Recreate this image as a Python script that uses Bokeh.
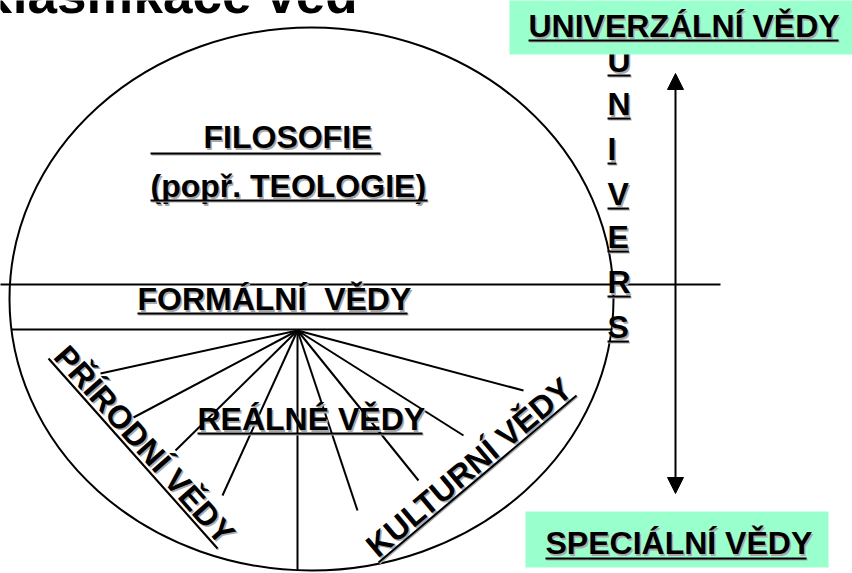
import math
from bokeh.plotting import figure
from bokeh.models import Range1d, Arrow, NormalHead
from bokeh.embed import file_html
from bokeh.resources import INLINE
from bokeh.core.properties import value

# ---------------- content ----------------
title = "Klasifikace věd"
universal_label = "UNIVERZÁLNÍ VĚDY"
special_label = "SPECIÁLNÍ VĚDY"
vertical_word = list("UNIVERS")
region_labels = ["FILOSOFIE", "(popř. TEOLOGIE)", "FORMÁLNÍ\u00a0 VĚDY", "REÁLNÉ VĚDY"]
branch_labels = ["PŘÍRODNÍ VĚDY", "KULTURNÍ VĚDY"]

# ---------------- layout (pixel space of the slide) ----------------
ellipse_cx, ellipse_cy, ellipse_w, ellipse_h = 311, 298.5, 604, 543
divider_y = [284, 329]
divider_x0 = [-5, 11]
divider_x1 = [720, 611]
fan_x0, fan_y0 = 297, 330
fan_end_x = [100, 133, 175, 222, 297, 357, 418, 463, 523]
fan_end_y = [373, 417, 450, 495, 570, 510, 480, 435, 390]

label_x = [203, 150, 137, 197]
label_y = [148, 197, 310, 430]
label_ul_x0 = [150, 150, 137, 197]
label_ul_x1 = [380, 427, 407, 422]
label_ul_y = [153, 200, 313, 433]

box_left = [509, 525]
box_right = [870, 828]
box_top = [-20, 511]
box_bottom = [54, 567]
box_text_x = [528, 545]
box_text_y = [37, 554]
box_ul_x0 = [528, 545]
box_ul_x1 = [838, 806]
box_ul_y = [40, 558]

vert_x = 607
vert_baselines = [72, 115, 160, 205, 248, 293, 338]
# Arial/Liberation Sans Bold advance widths (em)
adv = {"U": 0.722, "N": 0.722, "I": 0.278, "V": 0.667, "E": 0.667, "R": 0.722, "S": 0.667}

branch_ul_start = [(48, 358), (378, 562)]
branch_ul_end = [(217, 548), (576, 395)]

arrow_x, arrow_top, arrow_bottom = 675, 73, 493

FONT = value("Liberation Sans")
FS = 32
GREEN = "#99ffcc"
SHADOW = "#a8a8a8"
BASE_FIX = 11 / 31  # renderer places alphabetic baseline lower than requested (per px of font size)

p = figure(width=852, height=573, x_range=Range1d(0, 852), y_range=Range1d(573, 0),
           output_backend="svg", toolbar_location=None, min_border=0,
           x_axis_location=None, y_axis_location=None)
p.grid.visible = False
p.outline_line_color = None
p.background_fill_color = "white"
p.border_fill_color = "white"


def txt(xs, ys, texts, size=FS, angle=0.0, align="left", shadow=True):
    fix = BASE_FIX * size
    ox, oy = -math.sin(angle) * fix, -math.cos(angle) * fix
    xs = [x + ox for x in xs]
    ys = [y + oy for y in ys]
    if shadow:
        p.text(x=[x + 1.5 for x in xs], y=[y + 1.5 for y in ys], text=texts, angle=angle,
               text_font=FONT, text_font_style="bold", text_font_size=value(f"{size}px"),
               text_color=SHADOW, text_align=align, text_baseline="alphabetic")
    p.text(x=xs, y=ys, text=texts, angle=angle,
           text_font=FONT, text_font_style="bold", text_font_size=value(f"{size}px"),
           text_color="black", text_align=align, text_baseline="alphabetic")


def underline(x0, y0, x1, y1):
    p.segment(x0=[a + 1 for a in x0], y0=[b + 1 for b in y0], x1=[a + 1 for a in x1],
              y1=[b + 1 for b in y1], line_color=SHADOW, line_width=2)
    p.segment(x0=x0, y0=y0, x1=x1, y1=y1, line_color="black", line_width=2)


# title (mostly cut off at the top, as on the slide)
txt([-26], [13], [title], size=53, shadow=False)

# ellipse and dividers
p.ellipse(x=[ellipse_cx], y=[ellipse_cy], width=[ellipse_w], height=[ellipse_h],
          fill_color=None, line_color="black", line_width=2)
p.segment(x0=divider_x0, y0=divider_y, x1=divider_x1, y1=divider_y, line_color="black", line_width=2)

# fan of real sciences
p.segment(x0=[fan_x0] * len(fan_end_x), y0=[fan_y0] * len(fan_end_y), x1=fan_end_x, y1=fan_end_y,
          line_color="black", line_width=2)

# region labels
txt(label_x, label_y, region_labels)
underline(label_ul_x0, label_ul_y, label_ul_x1, label_ul_y)

# rotated branch labels
for lab, (sx, sy), (ex, ey) in zip(branch_labels, branch_ul_start, branch_ul_end):
    dx, dy = ex - sx, ey - sy
    L = math.hypot(dx, dy)
    ux, uy = dx / L, dy / L
    upx, upy = uy, -ux  # towards the top of the letters (screen, y down)
    if upy > 0:
        upx, upy = -upx, -upy
    ang = -math.atan2(dy, dx)  # anticlockwise on screen
    ax, ay = sx + 3 * upx + 2 * ux, sy + 3 * upy + 2 * uy
    txt([ax], [ay], [lab], angle=ang)
    underline([sx], [sy], [ex], [ey])

# vertical UNIVERS
txt([vert_x] * len(vertical_word), vert_baselines, vertical_word)
underline([vert_x] * len(vertical_word), [b + 3 for b in vert_baselines],
          [vert_x + adv[c] * FS for c in vertical_word], [b + 3 for b in vert_baselines])

# double arrow
p.add_layout(Arrow(start=NormalHead(size=16, fill_color="black", line_color="black"),
                   end=NormalHead(size=16, fill_color="black", line_color="black"),
                   x_start=arrow_x, y_start=arrow_bottom, x_end=arrow_x, y_end=arrow_top,
                   line_color="black", line_width=2))

# green boxes
p.quad(left=box_left, right=box_right, top=box_top, bottom=box_bottom, fill_color=GREEN, line_color=None)
txt(box_text_x, box_text_y, [universal_label, special_label])
underline(box_ul_x0, box_ul_y, box_ul_x1, box_ul_y)

open("out.html", "w").write(file_html(p, INLINE))
